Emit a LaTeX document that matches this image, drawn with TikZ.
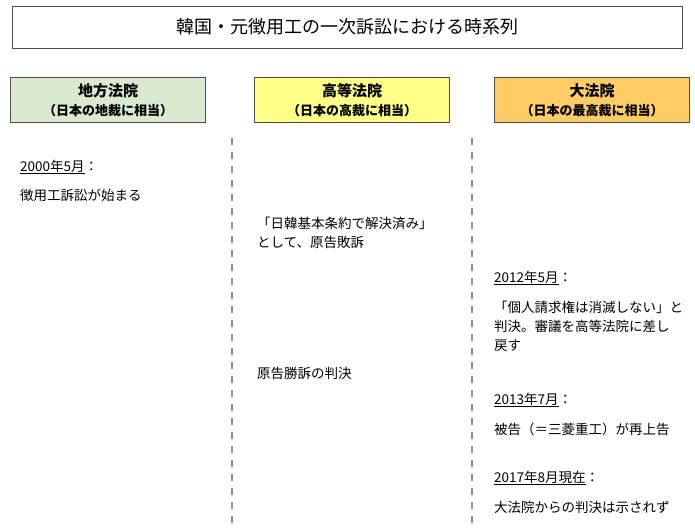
\documentclass[tikz,border=0pt]{standalone}
\usepackage{fontspec}
\setmainfont{Noto Sans CJK JP}
\usetikzlibrary{positioning}
\definecolor{chihou}{HTML}{D9EAD0}
\definecolor{koutou}{HTML}{FFFF88}
\definecolor{taihou}{HTML}{FFCC66}
\tikzset{
  court/.style={draw=black!70, minimum width=195pt, minimum height=45pt, align=center, inner sep=1pt, font=\fontsize{15}{19}\selectfont\bfseries},
  entry/.style={anchor=west, inner sep=0pt, align=left, font=\fontsize{13.5}{19}\selectfont},
  sep/.style={draw=black!45, line width=1.3pt, dash pattern=on 7pt off 7pt}
}
\begin{document}
\begin{tikzpicture}[x=1pt,y=-1pt]
\useasboundingbox (0,0) rectangle (695,530);
\node (title) at (347,27) [draw=black!70, minimum width=670pt, minimum height=42pt, font=\fontsize{18}{20}\selectfont] {韓国・元徴用工の一次訴訟における時系列};
\node (chi) at (108,100) [court, fill=chihou] {地方法院\\{\fontsize{13}{16}\selectfont （日本の地裁に相当）}};
\node (kou) at (352,100) [court, fill=koutou] {高等法院\\{\fontsize{13}{16}\selectfont （日本の高裁に相当）}};
\node (tai) at (592,100) [court, fill=taihou] {大法院\\{\fontsize{13}{16}\selectfont （日本の最高裁に相当）}};
\coordinate (s1a) at (232,138);
\coordinate (s1b) at (232,530);
\coordinate (s2a) at (472,138);
\coordinate (s2b) at (472,530);
\draw[sep] (s1a) -- (s1b);
\draw[sep] (s2a) -- (s2b);
% district court
\node (d1) at (20,167) [entry] {\underline{2000年5月}：};
\node (d2) at (20,195) [entry] {徴用工訴訟が始まる};
% high court
\node (h1) at (257,233) [entry] {「日韓基本条約で解決済み」\\として、原告敗訴};
\node (h2) at (257,373) [entry] {原告勝訴の判決};
% supreme court
\node (t1) at (494,278) [entry] {\underline{2012年5月}：};
\node (t2) at (494,326) [entry] {「個人請求権は消滅しない」と\\判決。審議を高等法院に差し\\戻す};
\node (t3) at (494,400) [entry] {\underline{2013年7月}：};
\node (t4) at (494,429) [entry] {被告（＝三菱重工）が再上告};
\node (t5) at (494,478) [entry] {\underline{2017年8月現在}：};
\node (t6) at (494,507) [entry] {大法院からの判決は示されず};
\end{tikzpicture}
\end{document}
